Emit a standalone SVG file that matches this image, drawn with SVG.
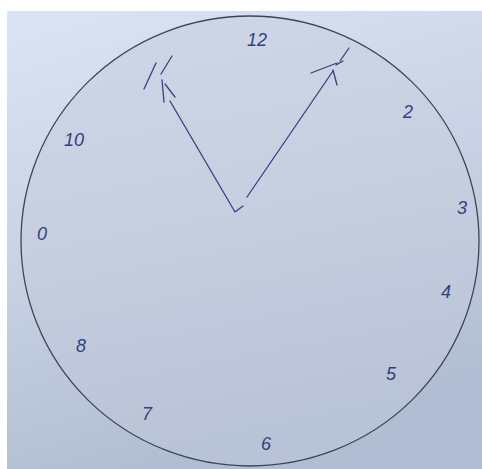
<svg xmlns="http://www.w3.org/2000/svg" width="482" height="469" viewBox="0 0 482 469">
  <defs>
    <linearGradient id="bg" x1="0" y1="0" x2="0.3" y2="1">
      <stop offset="0" stop-color="#dbe4f3"/>
      <stop offset="0.5" stop-color="#c9d3e5"/>
      <stop offset="1" stop-color="#b1bdd2"/>
    </linearGradient>
    <linearGradient id="face" x1="0" y1="0" x2="0.2" y2="1">
      <stop offset="0" stop-color="#cfd7e7"/>
      <stop offset="0.5" stop-color="#c6cfe0"/>
      <stop offset="1" stop-color="#b9c3d6"/>
    </linearGradient>
    <style>
      .num { font-family: "Liberation Sans", "DejaVu Sans", sans-serif; font-style: italic; font-size: 18px; fill: #33417e; text-anchor: middle; }
      .pen { fill: none; stroke: #34427f; stroke-width: 1.3; stroke-linecap: round; stroke-linejoin: round; }
    </style>
  </defs>
  <rect x="0" y="0" width="482" height="469" fill="#ffffff"/>
  <rect x="7" y="11" width="475" height="458" fill="url(#bg)"/>
  <g id="face-circle">
    <ellipse cx="250" cy="241" rx="229" ry="225" fill="url(#face)" stroke="#3c4658" stroke-width="1.3"/>
  </g>
  <g id="numbers">
    <text class="num" x="257" y="46">12</text>
    <text class="num" x="408" y="118">2</text>
    <text class="num" x="462" y="214">3</text>
    <text class="num" x="446" y="298">4</text>
    <text class="num" x="391" y="380">5</text>
    <text class="num" x="266" y="450">6</text>
    <text class="num" x="147" y="420">7</text>
    <text class="num" x="81" y="352">8</text>
    <text class="num" x="42" y="240">0</text>
    <text class="num" x="74" y="146">10</text>
  </g>
  <g id="hands">
    <path class="pen" d="M170,101 L235,212 L243,206"/>
    <path class="pen" d="M247,197 L333,71"/>
    <path class="pen" d="M144,89 L156,63 M161,74 L172,56 M162,80 L164,102 M165,84 L175,97"/>
    <path class="pen" d="M311,73 L337,63 M340,61 L349,48 M333,70 L337,85 M336,65 L343,61"/>
  </g>
</svg>
